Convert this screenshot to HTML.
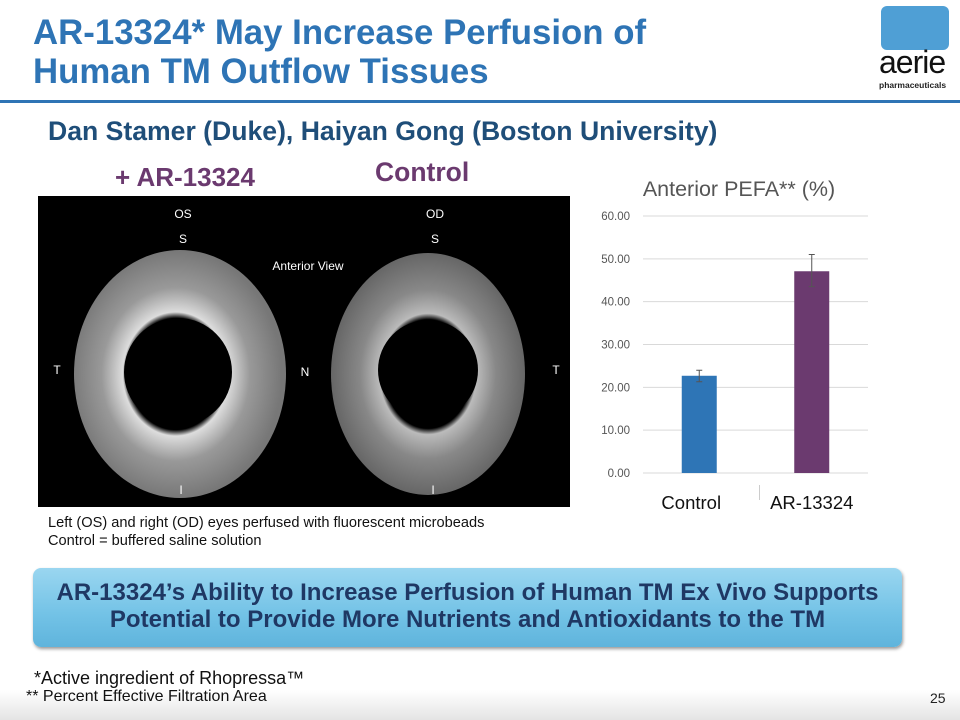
<!DOCTYPE html>
<html><head><meta charset="utf-8"><style>
body{margin:0;width:960px;height:720px;position:relative;background:#fff;font-family:"Liberation Sans",Arial,sans-serif;overflow:hidden}
.a{position:absolute;white-space:nowrap}
</style></head><body>
<div class="a" style="left:33px;top:13px;font-size:34.8px;font-weight:bold;color:#2E74B5;line-height:39px">AR-13324* May Increase Perfusion of<br>Human TM Outflow Tissues</div>
<div class="a" style="left:0;top:100px;width:960px;height:3px;background:#2E74B5"></div>
<div class="a" style="left:881px;top:6px;width:68px;height:44px;background:#4F9FD5;border-radius:6px"></div>
<div class="a" style="left:879px;top:44px;font-size:32px;color:#111;letter-spacing:-1px">aerie</div>
<div class="a" style="left:879px;top:80px;font-size:8.5px;font-weight:bold;color:#222">pharmaceuticals</div>
<div class="a" style="left:48px;top:116px;font-size:26.6px;font-weight:bold;color:#1F4E79">Dan Stamer (Duke), Haiyan Gong (Boston University)</div>
<div class="a" style="left:115px;top:162px;font-size:26px;font-weight:bold;color:#6B3A6F">+ AR-13324</div>
<div class="a" style="left:375px;top:157px;font-size:26.5px;font-weight:bold;color:#6B3A6F">Control</div>
<svg class="a" style="left:38px;top:196px" width="532" height="311">
<defs>
<radialGradient id="g1" cx="0.48" cy="0.5" r="0.5"><stop offset="0.45" stop-color="#000"/><stop offset="0.5" stop-color="#ddd"/><stop offset="0.7" stop-color="#999"/><stop offset="1" stop-color="#777"/></radialGradient>
<radialGradient id="g2" cx="0.5" cy="0.5" r="0.5"><stop offset="0.45" stop-color="#000"/><stop offset="0.5" stop-color="#bbb"/><stop offset="0.7" stop-color="#888"/><stop offset="1" stop-color="#666"/></radialGradient>
</defs>
<rect width="532" height="311" fill="#000"/>
<ellipse cx="142" cy="178" rx="106" ry="124" fill="url(#g1)"/>
<circle cx="140" cy="176" r="54" fill="#000"/>
<ellipse cx="390" cy="178" rx="97" ry="121" fill="url(#g2)"/>
<circle cx="390" cy="174" r="50" fill="#000"/>
<g fill="#fff" font-size="12" font-family="Liberation Sans,sans-serif" text-anchor="middle">
<text x="145" y="22">OS</text><text x="145" y="47">S</text>
<text x="397" y="22">OD</text><text x="397" y="47">S</text>
<text x="270" y="74">Anterior View</text>
<text x="19" y="178">T</text><text x="267" y="180">N</text><text x="518" y="178">T</text>
<text x="143" y="298">I</text><text x="395" y="298">I</text></g>
</svg>
<div class="a" style="left:48px;top:515px;font-size:14.6px;color:#111;line-height:17.5px">Left (OS) and right (OD) eyes perfused with fluorescent microbeads<br>Control = buffered saline solution</div>
<svg class="a" style="left:580px;top:170px" width="300" height="350" id="chart"></svg>
<div class="a" style="left:33px;top:568px;width:869px;height:79px;border-radius:8px;background:linear-gradient(#9ad6f0,#72c2e6 60%,#5fb4dc);box-shadow:1px 2px 3px #999"></div>
<div class="a" style="left:33px;top:579px;width:869px;text-align:center;font-size:24px;font-weight:bold;color:#1F3864;line-height:27px;white-space:normal">AR-13324’s Ability to Increase Perfusion of Human TM Ex Vivo Supports Potential to Provide More Nutrients and Antioxidants to the TM</div>
<div class="a" style="left:0;top:690px;width:960px;height:30px;background:linear-gradient(#fff,#e4e4e4)"></div>
<div class="a" style="left:34px;top:668px;font-size:18px;color:#111">*Active ingredient of Rhopressa™</div>
<div class="a" style="left:26px;top:688px;font-size:16px;color:#111">** Percent Effective Filtration Area</div>
<div class="a" style="left:930px;top:690px;font-size:14px;color:#222">25</div>
<script>
const categories=["Control","AR-13324"];
const values=[22.7,47.1];
const errLow=[21.3,43.5];
const errHigh=[24.0,51.0];
const ticks=[0,10,20,30,40,50,60];
const colors=["#2E75B6","#6B3A6F"];
const svg=document.getElementById('chart');
const NS="http://www.w3.org/2000/svg";
const y0=303,yTop=46,vmax=60;
const ys=v=>y0-(v/vmax)*(y0-yTop);
const left=63,right=288,band=(right-left)/categories.length;
const xs=i=>left+band*i+band/2;
function mk(t,a){const e=document.createElementNS(NS,t);for(const k in a)e.setAttribute(k,a[k]);svg.appendChild(e);return e;}
let t=mk('text',{x:159,y:26,'text-anchor':'middle','font-size':21.5,fill:'#555','font-family':'Liberation Sans,sans-serif'});


t.textContent='Anterior PEFA** (%)';
ticks.forEach(v=>{
 const l=mk('line',{x1:left,x2:right,y1:ys(v),y2:ys(v),stroke:'#d9d9d9','stroke-width':1});
 
 
 const tx=mk('text',{x:50,y:ys(v)+4,'text-anchor':'end','font-size':11.5,fill:'#555','font-family':'Liberation Sans,sans-serif'});
 
 
 tx.textContent=v.toFixed(2);
});
categories.forEach((c,i)=>{
 const w=35,x=xs(i);
 const r=mk('rect',{x:x-w/2,y:ys(values[i]),width:w,height:ys(0)-ys(values[i]),fill:colors[i]});
 
 
 const e=mk('path',{d:`M${x},${ys(errLow[i])}V${ys(errHigh[i])}M${x-3},${ys(errHigh[i])}H${x+3}M${x-3},${ys(errLow[i])}H${x+3}`,stroke:'#555','stroke-width':1,fill:'none'});
 
 
 const lb=mk('text',{x:x-8+i*8,y:339,'text-anchor':'middle','font-size':18.5,fill:'#111','font-family':'Liberation Sans,sans-serif'});
 
 
 lb.textContent=c;
});
mk('line',{x1:left+band+4,x2:left+band+4,y1:315,y2:330,stroke:'#ccc'});
</script>
</body></html>
